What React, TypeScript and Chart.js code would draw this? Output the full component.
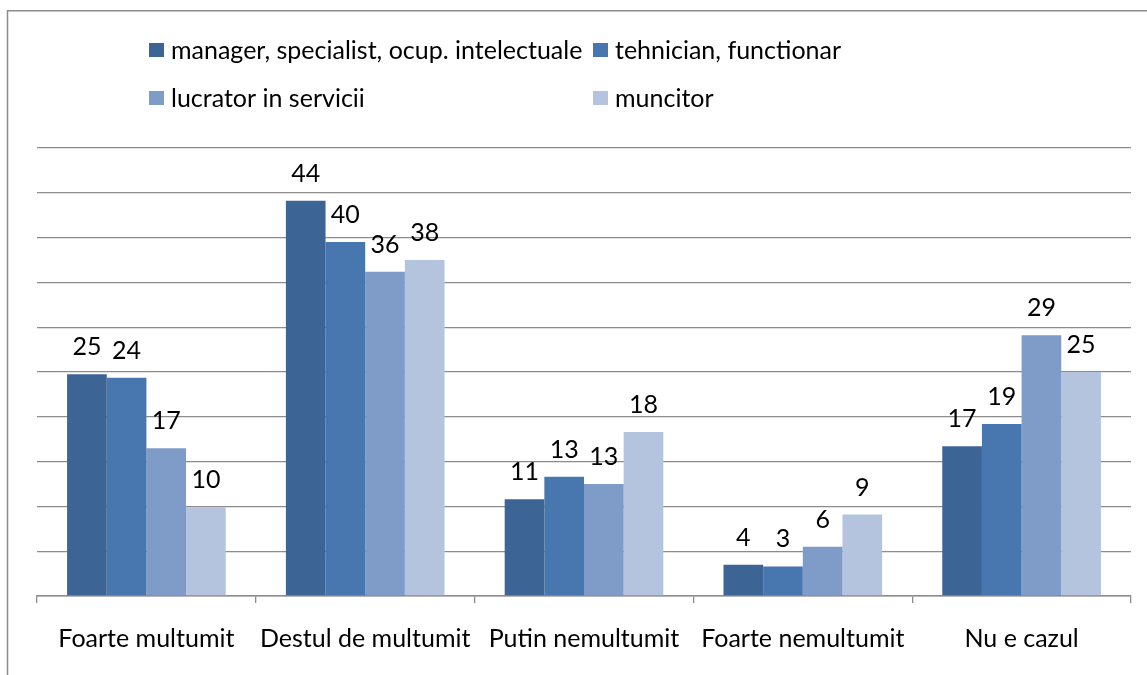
import { useEffect, useRef } from "react";
import { Chart, registerables } from "chart.js";

Chart.register(...registerables);

const categories = [
  "Foarte multumit",
  "Destul de multumit",
  "Putin nemultumit",
  "Foarte nemultumit",
  "Nu e cazul",
];

const seriesNames = [
  "manager, specialist, ocup. intelectuale",
  "tehnician, functionar",
  "lucrator in servicii",
  "muncitor",
];

const managerValues = [24.75, 44.1, 10.8, 3.5, 16.7];
const tehnicianValues = [24.35, 39.5, 13.3, 3.3, 19.2];
const lucratorValues = [16.5, 36.2, 12.5, 5.5, 29.1];
const muncitorValues = [9.9, 37.5, 18.3, 9.1, 25.0];

const seriesColors = ["#3C6494", "#4877B0", "#7F9CC8", "#B4C4DF"];

const yMin = 0;
const yMax = 50;
const yStep = 5;

const FONT = "Lato, 'Open Sans', sans-serif";
const FONT_SIZE = 25;

const framePlugin = {
  id: "frame",
  beforeDraw(chart: any) {
    const ctx = chart.ctx;
    ctx.save();
    ctx.strokeStyle = "#8C8C8C";
    ctx.lineWidth = 1.5;
    ctx.beginPath();
    ctx.moveTo(7.5, chart.height);
    ctx.lineTo(7.5, 10.75);
    ctx.lineTo(chart.width, 10.75);
    ctx.stroke();
    ctx.restore();
  },
};

const legendPlugin = {
  id: "gridLegend",
  afterDraw(chart: any) {
    const ctx = chart.ctx;
    const cols = [149, 593];
    const rows = [50, 98];
    ctx.save();
    ctx.font = `${FONT_SIZE}px ${FONT}`;
    ctx.textBaseline = "middle";
    ctx.textAlign = "left";
    chart.data.datasets.forEach((ds: any, i: number) => {
      const x = cols[i % 2];
      const y = rows[Math.floor(i / 2)];
      ctx.fillStyle = ds.backgroundColor;
      ctx.fillRect(x, y - 7, 15, 14);
      ctx.fillStyle = "#000000";
      ctx.fillText(ds.label, x + 22, y + 1);
    });
    ctx.restore();
  },
};

const valueLabelPlugin = {
  id: "valueLabels",
  afterDatasetsDraw(chart: any) {
    const ctx = chart.ctx;
    ctx.save();
    ctx.font = `${FONT_SIZE}px ${FONT}`;
    ctx.textBaseline = "middle";
    ctx.textAlign = "center";
    ctx.fillStyle = "#000000";
    chart.data.datasets.forEach((ds: any, i: number) => {
      const meta = chart.getDatasetMeta(i);
      meta.data.forEach((bar: any, j: number) => {
        const v = ds.data[j];
        ctx.fillText(String(Math.round(v)), bar.x, bar.y - 27);
      });
    });
    ctx.restore();
  },
};

export default function App() {
  const canvasRef = useRef<HTMLCanvasElement | null>(null);

  useEffect(() => {
    if (!canvasRef.current) return;
    const allValues = [managerValues, tehnicianValues, lucratorValues, muncitorValues];
    const chart = new Chart(canvasRef.current, {
      type: "bar",
      data: {
        labels: categories,
        datasets: allValues.map((vals, i) => ({
          label: seriesNames[i],
          data: vals,
          backgroundColor: seriesColors[i],
          borderWidth: 0,
          barPercentage: 1,
          categoryPercentage: 0.725,
        })),
      },
      options: {
        animation: false,
        responsive: true,
        maintainAspectRatio: false,
        layout: { padding: { left: 37, right: 16, top: 148, bottom: 0 } },
        plugins: {
          legend: { display: false },
          tooltip: { enabled: false },
          title: { display: false },
        },
        scales: {
          x: {
            offset: true,
            grid: {
              offset: true,
              drawOnChartArea: false,
              drawTicks: true,
              tickLength: 7,
              color: "#8C8C8C",
              lineWidth: 1.3,
            },
            border: { display: true, color: "#8C8C8C", width: 1.5 },
            ticks: {
              color: "#000000",
              font: { family: FONT, size: FONT_SIZE },
              padding: 21,
              maxRotation: 0,
              autoSkip: false,
            },
          },
          y: {
            min: yMin,
            max: yMax,
            display: true,
            ticks: { display: false, stepSize: yStep },
            grid: { color: "#8C8C8C", lineWidth: 1.3, drawTicks: false },
            border: { display: false },
          },
        },
      },
      plugins: [framePlugin, legendPlugin, valueLabelPlugin],
    });
    return () => chart.destroy();
  }, []);

  return (
    <div
      style={{
        position: "fixed",
        left: 0,
        top: 0,
        width: 1147,
        height: 675,
        background: "#FFFFFF",
      }}
    >
      <canvas ref={canvasRef} />
    </div>
  );
}
